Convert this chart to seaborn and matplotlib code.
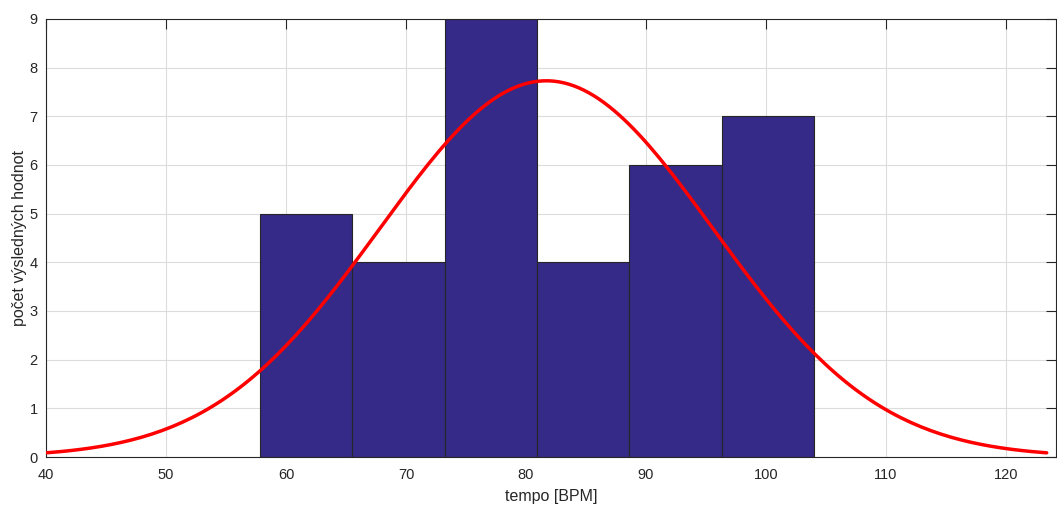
import numpy as np
import pandas as pd
import matplotlib
matplotlib.use("Agg")
import matplotlib.pyplot as plt
import seaborn as sns

# Data
bin_edges = [57.83, 65.53, 73.22, 80.91, 88.60, 96.30, 104.0]
counts = [5, 4, 9, 4, 6, 7]
fit_mu = 81.7
fit_sigma = 13.9
n_total = sum(counts)
x_ticks = [40, 50, 60, 70, 80, 90, 100, 110, 120]
y_ticks = [0, 1, 2, 3, 4, 5, 6, 7, 8, 9]

sns.set_theme(style="white")
plt.rcParams['font.family'] = ['Liberation Sans', 'DejaVu Sans']

centers = [(bin_edges[i] + bin_edges[i + 1]) / 2 for i in range(len(counts))]
df_bars = pd.DataFrame({"tempo": centers, "count": counts})

bw = (bin_edges[-1] - bin_edges[0]) / len(counts)
xs = np.linspace(fit_mu - 3 * fit_sigma, fit_mu + 3 * fit_sigma, 200)
ys = n_total * bw * np.exp(-0.5 * ((xs - fit_mu) / fit_sigma) ** 2) / (fit_sigma * np.sqrt(2 * np.pi))
df_fit = pd.DataFrame({"tempo": xs, "fit": ys})

fig = plt.figure(figsize=(10.57, 5.07), dpi=100)
ax = fig.add_axes([0.0435, 0.0986, 0.9555, 0.864])

sns.histplot(data=df_bars, x="tempo", weights="count", bins=bin_edges, ax=ax,
             color="#352A87", alpha=1.0, edgecolor="#262626", linewidth=0.8, zorder=2)
sns.lineplot(data=df_fit, x="tempo", y="fit", ax=ax, color="#FF0000", linewidth=2.5, zorder=3)

ax.set_xlim(40, 124.17)
ax.set_ylim(0, 9)
ax.set_xticks(x_ticks)
ax.set_yticks(y_ticks)
ax.grid(True, color="#DCDCDC", linewidth=0.8, zorder=0)
ax.set_axisbelow(True)
ax.tick_params(direction="in", length=7, width=0.8, colors="#262626", labelsize=10.5,
               top=True, right=True, labelcolor="#262626")
ax.tick_params(axis="x", pad=8)
ax.tick_params(axis="y", pad=6)
for s in ax.spines.values():
    s.set_color("#262626")
    s.set_linewidth(0.8)
ax.set_xlabel("tempo [BPM]", fontsize=11.5, color="#262626", labelpad=5)
ax.set_ylabel("počet výsledných hodnot", fontsize=11.5, color="#262626", labelpad=2)

fig.savefig("out.png", dpi=100)
